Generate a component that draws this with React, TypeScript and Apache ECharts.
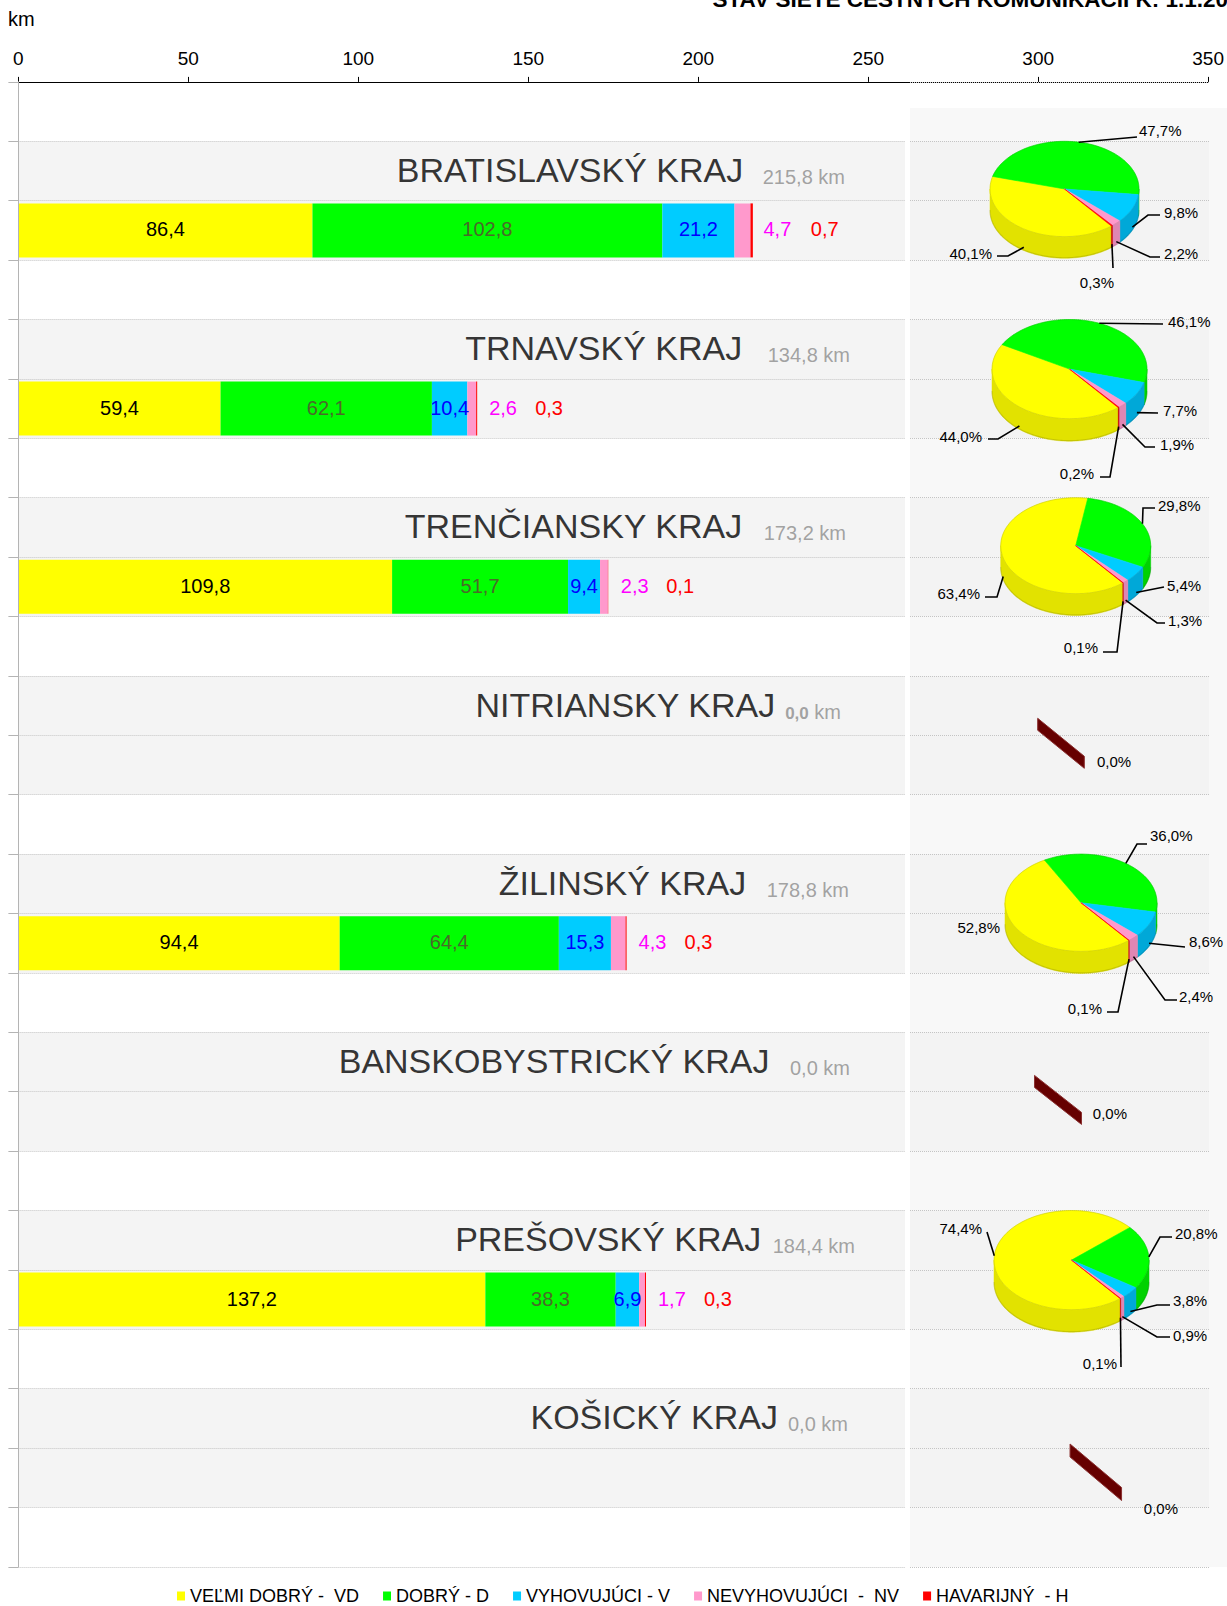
import React, { useEffect, useRef } from 'react';
import * as echarts from 'echarts';

// ---------------- DATA ----------------
const REGIONS = [
  'BRATISLAVSKÝ KRAJ',
  'TRNAVSKÝ KRAJ',
  'TRENČIANSKY KRAJ',
  'NITRIANSKY KRAJ',
  'ŽILINSKÝ KRAJ',
  'BANSKOBYSTRICKÝ KRAJ',
  'PREŠOVSKÝ KRAJ',
  'KOŠICKÝ KRAJ',
];
const TOTAL_KM = [215.8, 134.8, 173.2, 0, 178.8, 0, 184.4, 0];
const KM_VD = [86.4, 59.4, 109.8, 0, 94.4, 0, 137.2, 0];
const KM_D = [102.8, 62.1, 51.7, 0, 64.4, 0, 38.3, 0];
const KM_V = [21.2, 10.4, 9.4, 0, 15.3, 0, 6.9, 0];
const KM_NV = [4.7, 2.6, 2.3, 0, 4.3, 0, 1.7, 0];
const KM_H = [0.7, 0.3, 0.1, 0, 0.3, 0, 0.3, 0];

const PCT_VD = [40.1, 44.0, 63.4, 0, 52.8, 0, 74.4, 0];
const PCT_D = [47.7, 46.1, 29.8, 0, 36.0, 0, 20.8, 0];
const PCT_V = [9.8, 7.7, 5.4, 0, 8.6, 0, 3.8, 0];
const PCT_NV = [2.2, 1.9, 1.3, 0, 2.4, 0, 0.9, 0];
const PCT_H = [0.3, 0.2, 0.1, 0, 0.1, 0, 0.1, 0];

const LEGEND_NAMES = ['VEĽMI DOBRÝ -  VD', 'DOBRÝ - D', 'VYHOVUJÚCI - V', 'NEVYHOVUJÚCI  -  NV', 'HAVARIJNÝ  - H'];
const X_MIN = 0;
const X_MAX = 350;
const X_STEP = 50;
const TITLE_TEXT = 'STAV SIETE CESTNÝCH KOMUNIKÁCIÍ K: 1.1.20';
const UNIT_TEXT = 'km';

// ---------------- LAYOUT / STYLE ----------------
const FONT = "'Liberation Sans', Arial, Helvetica, sans-serif";
const W = 1227;
const H = 1606;
const GRID_LEFT = 18.4;
const GRID_TOP = 81.9;
const GRID_H = 1485;
const AXIS_RIGHT = 1209.6;
const BAR_RIGHT = 905;
const PIE_LEFT = 910;
const PIE_RIGHT = 1209;
const PX_PER_KM = (AXIS_RIGHT - GRID_LEFT) / (X_MAX - X_MIN);
const BAR_X_MAX = (BAR_RIGHT - GRID_LEFT) / PX_PER_KM;
// region heading: right edge (px) and gap between name and length
const TITLE_RIGHT_PX = [845, 850, 846, 841, 849, 850, 855, 848];
const TITLE_GAP = [19.5, 25.5, 21.5, 10, 20.5, 20.5, 11.5, 10];
const SMALL_BOLD_TOTAL = [false, false, false, true, false, false, false, false];

const COLORS = ['#ffff00', '#00ff00', '#00ccff', '#ff99cc', '#ff0000'];
const SIDE_COLORS = ['#e2e200', '#00d200', '#00a8d8', '#df86b3', '#c80000'];
const LABEL_COLORS = ['#000000', '#4a6a2a', '#0000ff', '#ff00ff', '#ff0000'];

const DEG = Math.PI / 180;
const START_ANGLE = 141; // clock degrees, first slice start
const PIE_TILT = 0.64;
const PIE_DEPTH = 0.29;
// pie centre x (px from pie column left) and radius per region
const PIE_X = [154.5, 159.5, 165.7, 151, 171, 148, 161.5, 185.8];
const PIE_RX = [74.5, 77.5, 75, 0, 76, 0, 77.5, 0];
// label layout: [side, labelX, labelY, elbowX, elbowY, tailX] relative to (pie cx, band top)
type Lab = [string, number, number, number | null, number | null, number | null];
const PIE_LABELS: (Lab[] | null)[] = [
  [['r', -72.5, 111.7, -56.5, 114.7, -67.5], ['l', 74.5, -11.3, 72.5, -4.3, 72.5], ['l', 99.5, 70.7, 83.5, 73.7, 95.5], ['l', 99.5, 111.7, 85.5, 115.7, 95.5], ['r', 49.5, 140.7, 48.5, 126.7, 48.5]],
  [['r', -87.5, 116.5, -71.5, 119.5, -81.5], ['l', 98.5, 1.5, 93.5, 4.5, 93.5], ['l', 93.5, 90.5, 88.5, 93.5, 88.5], ['l', 90.5, 124.5, 75.5, 127.5, 85.5], ['r', 24.5, 153.5, 40.5, 157.5, 30.5]],
  [['r', -95.7, 95.3, -78.7, 99.3, -90.7], ['l', 82.3, 7.3, 67.3, 10.3, 79.3], ['l', 91.3, 87.3, 88.3, 89.3, 88.3], ['l', 92.3, 122.3, 81.3, 125.3, 89.3], ['r', 22.3, 149.3, 41.3, 154.3, 27.3]],
  null,
  [['r', -81, 72.9, null, null, null], ['l', 69, -19.1, 56, -10.1, 66], ['l', 108, 86.9, 104, 92.9, 104], ['l', 98, 141.9, 84, 145.9, 96], ['r', 21, 153.9, 37, 157.9, 26]],
  null,
  [['r', -89.5, 17.5, -84.5, 21.5, -84.5], ['l', 103.5, 22.5, 88.5, 26.5, 100.5], ['l', 101.5, 89.5, 85.5, 94.5, 98.5], ['l', 101.5, 124.5, 85.5, 126.5, 98.5], ['r', 45.5, 152.5, 49.5, 156.5, 49.5]],
  null,
];
// empty-pie marker layout: width, top, height, edge, label dx, label y (relative to band top)
const ZERO_PIE: ({ w: number; y0: number; h: number; t: number; lx: number; ly: number } | null)[] = [
  null, null, null,
  { w: 46.6, y0: 42.4, h: 50, t: 12, lx: 36, ly: 85.8 },
  null,
  { w: 47, y0: 43.1, h: 49, t: 12, lx: 34.8, ly: 81 },
  null,
  { w: 51.5, y0: 55.3, h: 56.5, t: 13, lx: 48, ly: 120 },
];

const fmt = (v: number) => v.toFixed(1).replace('.', ',');

function renderPie(_params: any, api: any) {
  const k = Number(api.value(2));
  const pt = api.coord([api.value(0), api.value(1)]);
  const rowH = api.size([0, 1])[1];
  const bandTop = pt[1] - rowH / 2;
  const cx = pt[0];
  const pcts = [3, 4, 5, 6, 7].map((i) => Number(api.value(i)) || 0);
  const total = pcts.reduce((a, b) => a + b, 0);
  const children: any[] = [];
  if (total <= 0) {
    const z = ZERO_PIE[k];
    if (!z) return { type: 'group', children };
    const x0 = cx - z.w / 2;
    const y0 = bandTop + z.y0;
    children.push({
      type: 'polygon',
      shape: { points: [[x0, y0], [x0 + z.w, y0 + z.h - z.t], [x0 + z.w, y0 + z.h], [x0, y0 + z.t]] },
      style: { fill: '#660000', stroke: '#8a3030', lineWidth: 1 },
    });
    children.push({
      type: 'text',
      style: { text: '0,0%', x: cx + z.lx, y: bandTop + z.ly, align: 'left', verticalAlign: 'middle', fontSize: 15, fontFamily: FONT, fill: '#000' },
    });
    return { type: 'group', children };
  }
  const rx = PIE_RX[k];
  const ry = rx * PIE_TILT;
  const depth = rx * PIE_DEPTH;
  const cy = bandTop + ry;
  const rim = (c: number, dy = 0) => [cx + rx * Math.sin(c * DEG), cy - ry * Math.cos(c * DEG) + dy];
  const arc = (a0: number, a1: number, dy: number) => {
    const pts: number[][] = [];
    const n = Math.max(1, Math.ceil((a1 - a0) / 1.5));
    for (let j = 0; j <= n; j++) pts.push(rim(a0 + ((a1 - a0) * j) / n, dy));
    return pts;
  };
  let a = START_ANGLE;
  const spans = pcts.map((p) => {
    const a0 = a;
    a += (p / total) * 360;
    return [a0, a];
  });
  // side walls (front half only)
  spans.forEach(([a0, a1], i) => {
    [[90, 270], [450, 630]].forEach(([f0, f1]) => {
      const lo = Math.max(a0, f0);
      const hi = Math.min(a1, f1);
      if (hi > lo) {
        const top = arc(lo, hi, 0);
        const bot = arc(lo, hi, depth).reverse();
        children.push({
          type: 'polygon',
          shape: { points: top.concat(bot) },
          style: { fill: SIDE_COLORS[i], stroke: SIDE_COLORS[i], lineWidth: 0.5 },
        });
      }
    });
  });
  // soft shading along the bottom rim
  children.push({
    type: 'polyline',
    shape: { points: arc(90, 270, depth - 0.5) },
    style: { stroke: 'rgba(0,0,0,0.12)', lineWidth: 1.2, fill: 'none' },
  });
  // top faces
  spans.forEach(([a0, a1], i) => {
    children.push({
      type: 'polygon',
      shape: { points: [[cx, cy], ...arc(a0, a1, 0)] },
      style: { fill: COLORS[i], stroke: COLORS[i], lineWidth: 0.6 },
    });
  });
  children.push({
    type: 'ellipse',
    shape: { cx, cy, rx, ry },
    style: { fill: 'none', stroke: 'rgba(0,0,0,0.12)', lineWidth: 1 },
  });
  // labels with leader lines
  const labs = PIE_LABELS[k];
  if (labs) {
    spans.forEach(([a0, a1], i) => {
      const L = labs[i];
      const mid = (a0 + a1) / 2;
      const front = Math.cos(mid * DEG) < 0;
      const anc = rim(mid, front ? depth * 0.85 : 0);
      if (L[3] !== null && L[4] !== null) {
        const pts: number[][] = [anc, [cx + (L[3] as number), bandTop + (L[4] as number)]];
        if (L[5] !== null && L[5] !== L[3]) pts.push([cx + (L[5] as number), bandTop + (L[4] as number)]);
        children.push({ type: 'polyline', shape: { points: pts }, style: { stroke: '#000', lineWidth: 1.6, fill: 'none' } });
      }
      children.push({
        type: 'text',
        style: {
          text: fmt(pcts[i]) + '%',
          x: cx + L[1],
          y: bandTop + L[2],
          align: L[0] === 'l' ? 'left' : 'right',
          verticalAlign: 'middle',
          fontSize: 15,
          fontFamily: FONT,
          fill: '#000',
        },
      });
    });
  }
  return { type: 'group', children };
}

function buildOption() {
  const nRows = REGIONS.length * 3 + 1;
  const rows = Array.from({ length: nRows }, (_, i) => 'r' + i);
  const titleRow = (k: number) => 1 + 3 * k;
  const barRow = (k: number) => 2 + 3 * k;
  const seriesKm = [KM_VD, KM_D, KM_V, KM_NV, KM_H];

  const barSeries = seriesKm.map((arr, s) => {
    const data: any[] = rows.map(() => '-');
    arr.forEach((v, k) => {
      if (v > 0) data[barRow(k)] = v;
    });
    const label: any =
      s < 3
        ? { show: true, position: 'inside', offset: [0, -1], fontSize: 20, color: LABEL_COLORS[s], fontFamily: FONT }
        : { show: true, position: 'right', distance: s === 3 ? 13 : 58, offset: [0, -1], fontSize: 20, color: LABEL_COLORS[s], fontFamily: FONT };
    label.formatter = (p: any) => fmt(Number(p.value));
    return {
      type: 'bar',
      name: LEGEND_NAMES[s],
      stack: 'km',
      xAxisIndex: 1,
      yAxisIndex: 1,
      barWidth: 54,
      silent: true,
      itemStyle: { color: COLORS[s] },
      label,
      data,
    };
  });

  const titleSeries = {
    type: 'scatter',
    xAxisIndex: 1,
    yAxisIndex: 1,
    symbolSize: 0,
    silent: true,
    z: 6,
    data: REGIONS.map((_, k) => [(TITLE_RIGHT_PX[k] - GRID_LEFT) / PX_PER_KM, titleRow(k)]),
    label: {
      show: true,
      position: 'left',
      distance: 0,
      offset: [0, -3],
      formatter: (p: any) => {
        const k = p.dataIndex;
        const g = `{g${k}|}`;
        if (SMALL_BOLD_TOTAL[k]) return `{n|${REGIONS[k]}}${g}{kb|${fmt(TOTAL_KM[k])}}{k| km}`;
        return `{n|${REGIONS[k]}}${g}{k|${fmt(TOTAL_KM[k])} km}`;
      },
      rich: Object.assign(
        {
          n: { fontSize: 34, color: '#000', fontFamily: FONT, lineHeight: 38, verticalAlign: 'bottom' },
          k: { fontSize: 20, color: '#8c8c8c', fontFamily: FONT, lineHeight: 30, verticalAlign: 'bottom' },
          kb: { fontSize: 17, fontWeight: 'bold', color: '#8c8c8c', fontFamily: FONT, lineHeight: 27.5, verticalAlign: 'bottom' },
        },
        ...TITLE_GAP.map((gap, k) => ({ ['g' + k]: { width: gap, lineHeight: 30, verticalAlign: 'bottom' } }))
      ),
    },
  };

  const pieSeries = {
    type: 'custom',
    xAxisIndex: 2,
    yAxisIndex: 2,
    z: 10,
    silent: true,
    clip: false,
    renderItem: renderPie,
    encode: { x: 0, y: 1 },
    data: REGIONS.map((_, k) => [PIE_X[k], titleRow(k), k, PCT_VD[k], PCT_D[k], PCT_V[k], PCT_NV[k], PCT_H[k]]),
  };

  const splitLine = { show: true, interval: 0, lineStyle: { color: '#c4c4c4', type: 'dotted', width: 1 } };

  return {
    animation: false,
    backgroundColor: '#ffffff',
    textStyle: { fontFamily: FONT },
    grid: [
      { left: GRID_LEFT, top: GRID_TOP, width: AXIS_RIGHT - GRID_LEFT, height: GRID_H },
      { left: GRID_LEFT, top: GRID_TOP, width: BAR_RIGHT - GRID_LEFT, height: GRID_H },
      { left: PIE_LEFT, top: GRID_TOP, width: PIE_RIGHT - PIE_LEFT, height: GRID_H },
    ],
    xAxis: [
      {
        type: 'value',
        gridIndex: 0,
        position: 'top',
        min: X_MIN,
        max: X_MAX,
        interval: X_STEP,
        axisLine: { show: true, lineStyle: { color: '#000', width: 1 } },
        axisTick: { show: true, length: 5, lineStyle: { color: '#000' } },
        axisLabel: { show: true, fontSize: 19, color: '#000', margin: 14, fontFamily: FONT },
        splitLine: { show: false },
      },
      { type: 'value', gridIndex: 1, min: 0, max: BAR_X_MAX, show: false },
      { type: 'value', gridIndex: 2, min: 0, max: PIE_RIGHT - PIE_LEFT, show: false },
    ],
    yAxis: [
      {
        type: 'category',
        gridIndex: 0,
        data: rows,
        inverse: true,
        axisLine: { show: true, lineStyle: { color: '#b4b4b4' } },
        axisTick: { show: true, interval: 0, length: 10, lineStyle: { color: '#b4b4b4' } },
        axisLabel: { show: false },
        splitLine: { show: false },
        z: 4,
      },
      {
        type: 'category',
        gridIndex: 1,
        data: rows,
        inverse: true,
        axisLine: { show: false },
        axisTick: { show: false },
        axisLabel: { show: false },
        splitLine,
        splitArea: { show: true, interval: 0, areaStyle: { color: ['#ffffff', '#f4f4f4', '#f4f4f4'] } },
      },
      {
        type: 'category',
        gridIndex: 2,
        data: rows,
        inverse: true,
        z: 3,
        axisLine: { show: false },
        axisTick: { show: false },
        axisLabel: { show: false },
        splitLine,
        splitArea: { show: true, interval: 0, areaStyle: { color: ['rgba(0,0,0,0)', '#f3f3f3', '#f3f3f3'] } },
      },
    ],
    legend: {
      data: LEGEND_NAMES,
      left: 177,
      top: 1586,
      icon: 'rect',
      itemWidth: 8,
      itemHeight: 9,
      itemGap: 24,
      padding: 0,
      selectedMode: false,
      textStyle: { fontSize: 18, color: '#000', lineHeight: 20, fontFamily: FONT },
    },
    graphic: [
      { type: 'rect', z: 1, silent: true, shape: { x: PIE_LEFT, y: 108, width: W - PIE_LEFT, height: GRID_TOP + GRID_H - 108 }, style: { fill: '#f8f8f8' } },
      { type: 'text', z: 5, silent: true, style: { text: UNIT_TEXT, x: 8, y: 18.5, verticalAlign: 'middle', fontSize: 20, fill: '#000', fontFamily: FONT } },
      { type: 'text', z: 5, silent: true, style: { text: TITLE_TEXT, x: 1228, y: -0.5, align: 'right', verticalAlign: 'middle', fontSize: 22.5, fontWeight: 'bold', fill: '#000', fontFamily: FONT } },
    ],
    series: [...barSeries, titleSeries, pieSeries],
  };
}

export default function App() {
  const ref = useRef<HTMLDivElement>(null);
  useEffect(() => {
    document.body.style.margin = '0';
    if (!ref.current) return;
    const chart = echarts.init(ref.current, undefined, { renderer: 'svg', width: W, height: H });
    chart.setOption(buildOption() as any);
    return () => chart.dispose();
  }, []);
  return <div ref={ref} style={{ width: W, height: H, position: 'absolute', left: 0, top: 0 }} />;
}
